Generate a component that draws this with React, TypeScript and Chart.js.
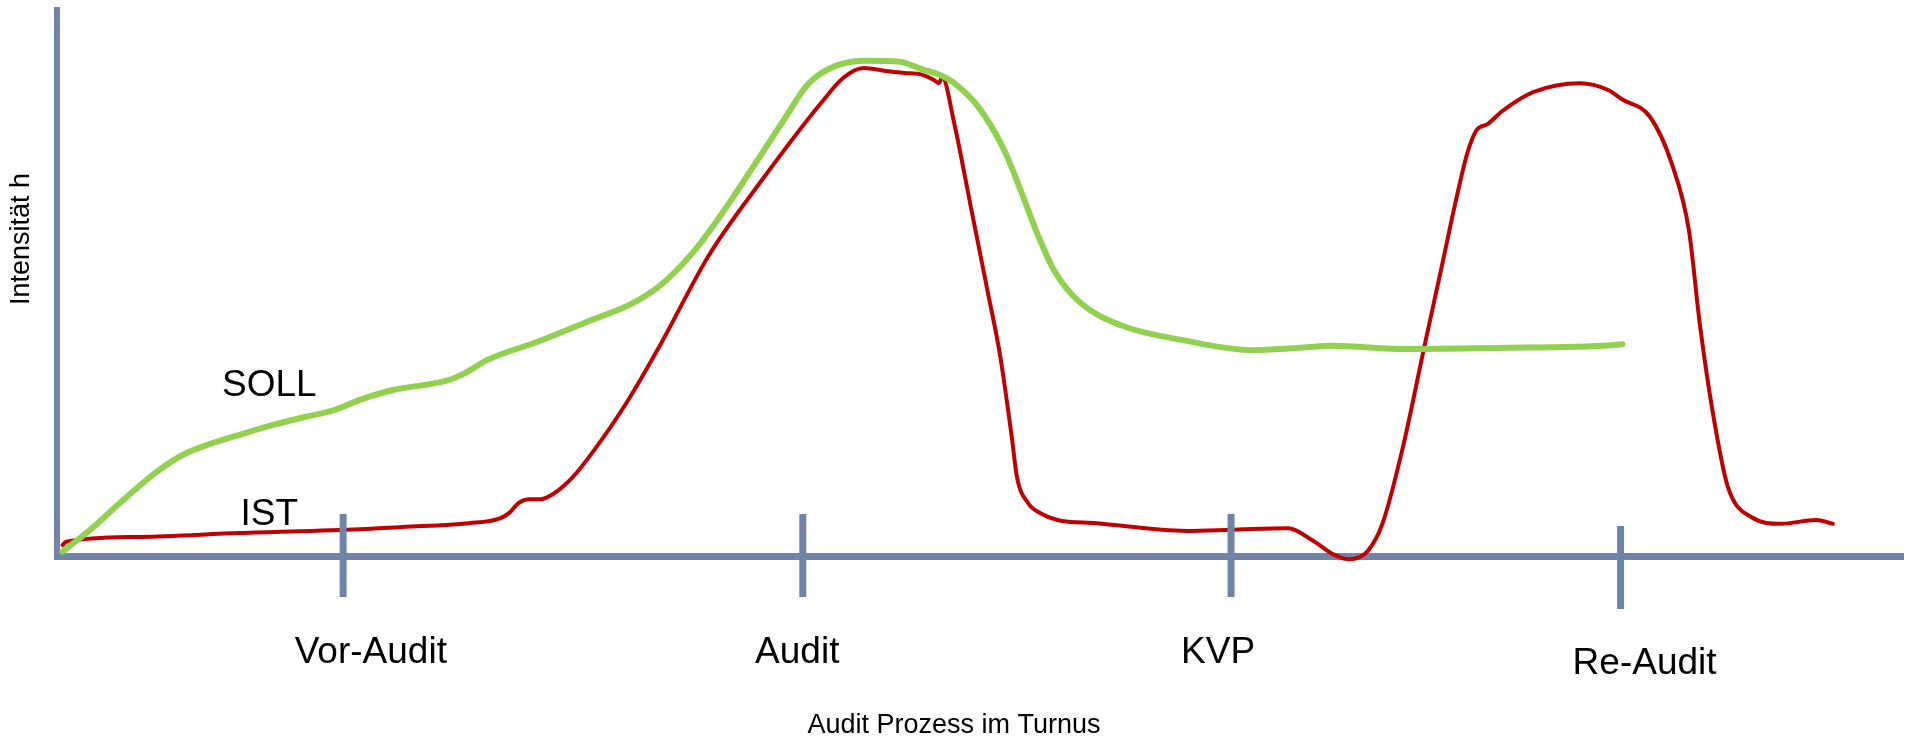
import React, { useEffect, useRef } from 'react';
import { Chart, registerables } from 'chart.js';

Chart.register(...registerables);

// ---- data (x: progress of the audit cycle 0..100, y: intensity 0..100) ----
const sollX = [0.3, 1.8, 3.6, 5.4, 6.8, 8.1, 9.9, 11.7, 13.5, 15.0, 16.4, 18.2, 21.1, 22.1, 23.3, 26.0, 28.8, 31.3, 32.9, 34.6, 36.0, 38.2, 39.4, 40.6, 41.8, 43.7, 45.7, 46.8, 47.9, 48.6, 49.9, 51.3, 52.2, 53.1, 54.0, 55.4, 57.6, 61.2, 64.8, 67.2, 69.1, 73.1, 77.9, 84.2, 84.8];
const sollY = [0.8, 4.8, 10.3, 15.4, 18.5, 20.3, 22.2, 24.0, 25.5, 26.7, 28.6, 30.4, 32.1, 33.5, 35.9, 39.2, 43.0, 46.5, 50.2, 56.2, 62.6, 73.8, 80.0, 86.1, 89.2, 90.7, 90.5, 89.2, 88.0, 86.6, 82.3, 74.4, 67.0, 59.1, 52.4, 46.5, 42.3, 39.4, 37.7, 38.1, 38.5, 37.9, 38.1, 38.6, 38.8];

const istX = [0.3, 0.5, 4.5, 9.9, 16.4, 18.7, 22.3, 24.0, 24.5, 25.0, 25.6, 26.2, 26.9, 27.9, 29.1, 30.8, 32.7, 35.3, 38.2, 41.4, 42.6, 43.7, 45.0, 46.2, 46.8, 47.5, 47.77, 47.95, 48.6, 49.5, 50.4, 51.1, 51.74, 52.0, 52.6, 53.3, 54.2, 56.3, 61.2, 63.6, 66.7, 68.0, 69.2, 70.0, 71.0, 71.8, 72.9, 74.1, 75.0, 75.8, 76.4, 76.9, 77.5, 78.3, 80.0, 82.5, 84.0, 84.8, 86.3, 87.5, 88.4, 89.0, 89.7, 90.5, 91.8, 93.4, 95.3, 96.2];
const istY = [2.0, 2.6, 3.5, 4.2, 4.9, 5.3, 6.0, 6.9, 7.9, 9.7, 10.4, 10.4, 11.4, 14.3, 19.4, 27.8, 38.8, 55.0, 68.9, 83.0, 87.6, 89.4, 88.8, 88.4, 88.2, 87.2, 86.6, 87.7, 79.3, 64.0, 48.7, 36.5, 21.3, 14.5, 9.7, 7.8, 6.6, 6.0, 4.6, 4.8, 5.1, 2.9, 0.2, -0.6, 0.9, 5.9, 19.8, 38.8, 52.8, 65.4, 73.8, 78.0, 79.1, 81.5, 85.0, 86.6, 85.4, 83.6, 80.4, 71.6, 59.7, 42.3, 26.2, 12.8, 7.1, 5.9, 6.6, 5.9];

const seriesNames = ['SOLL', 'IST'];
const seriesNameX = [11.5, 11.5];
const seriesNameY = [31.2, 7.6];

const phaseLabels = ['Vor-Audit', 'Audit', 'KVP', 'Re-Audit'];
const phaseTickX = [15.5, 40.4, 63.6, 84.7];
const phaseLabelX = [17.0, 40.1, 62.9, 86.0];

const xTitle = 'Audit Prozess im Turnus';
const yTitle = 'Intensität h';

// ---- styles ----
const AXIS = '#7084A8';
const GREEN = '#92D050';
const RED = '#C00000';
const FONT = '"Liberation Sans", Arial, sans-serif';

const decorPlugin = {
  id: 'decor',
  afterDatasetsDraw(chart: any) {
    const { ctx, scales, chartArea } = chart;
    const xs = scales.x;
    const ys = scales.y;
    const axisY = chartArea.bottom;
    ctx.save();
    // phase tick marks crossing the x axis
    ctx.strokeStyle = AXIS;
    ctx.lineWidth = 7;
    ctx.lineCap = 'butt';
    phaseTickX.forEach((v, i) => {
      const px = xs.getPixelForValue(v);
      const up = i === 3 ? 30 : 42;
      const down = i === 3 ? 53 : 41;
      ctx.beginPath();
      ctx.moveTo(px, axisY - up);
      ctx.lineTo(px, axisY + down);
      ctx.stroke();
    });
    // phase labels
    ctx.fillStyle = '#000';
    ctx.textAlign = 'center';
    ctx.textBaseline = 'alphabetic';
    ctx.font = `37px ${FONT}`;
    phaseLabels.forEach((t, i) => {
      const px = xs.getPixelForValue(phaseLabelX[i]);
      ctx.fillText(t, px, axisY + (i === 3 ? 118 : 107));
    });
    // series names
    ctx.font = `37px ${FONT}`;
    ctx.textBaseline = 'middle';
    seriesNames.forEach((t, i) => {
      ctx.fillText(t, xs.getPixelForValue(seriesNameX[i]), ys.getPixelForValue(seriesNameY[i]));
    });
    // axis titles
    ctx.font = `27px ${FONT}`;
    ctx.textBaseline = 'alphabetic';
    ctx.fillText(xTitle, chart.width / 2 + 1, axisY + 177);
    ctx.save();
    ctx.translate(chartArea.left - 35, (chartArea.top + chartArea.bottom) / 2 - 44);
    ctx.rotate(-Math.PI / 2);
    ctx.font = `27px ${FONT}`;
    ctx.textBaseline = 'middle';
    ctx.fillText(yTitle, 0, 0);
    ctx.restore();
    ctx.restore();
  },
};

export default function App() {
  const ref = useRef<HTMLCanvasElement | null>(null);
  useEffect(() => {
    if (!ref.current) return;
    const chart = new Chart(ref.current, {
      type: 'line',
      data: {
        datasets: [
          {
            label: seriesNames[0],
            data: sollX.map((x, i) => ({ x, y: sollY[i] })),
            borderColor: GREEN,
            borderWidth: 6,
            pointRadius: 0,
            cubicInterpolationMode: 'monotone',
            borderCapStyle: 'round',
            borderJoinStyle: 'round',
            clip: false,
          } as any,
          {
            label: seriesNames[1],
            data: istX.map((x, i) => ({ x, y: istY[i] })),
            borderColor: RED,
            borderWidth: 4,
            pointRadius: 0,
            cubicInterpolationMode: 'monotone',
            borderCapStyle: 'round',
            borderJoinStyle: 'round',
            clip: false,
          } as any,
        ],
      },
      options: {
        responsive: false,
        animation: false,
        devicePixelRatio: 1,
        layout: { padding: { left: 57, right: 3, top: 10, bottom: 182 } },
        plugins: {
          legend: { display: false },
          tooltip: { enabled: false },
          title: { display: false },
        },
        scales: {
          x: {
            type: 'linear',
            min: 0,
            max: 100,
            grid: { display: false, drawTicks: false },
            ticks: { display: false },
            border: { display: true, color: AXIS, width: 7 },
          },
          y: {
            type: 'linear',
            min: 0,
            max: 100,
            grid: { display: false, drawTicks: false },
            ticks: { display: false },
            border: { display: true, color: AXIS, width: 6 },
          },
        },
      },
      plugins: [decorPlugin],
    });
    return () => chart.destroy();
  }, []);
  return (
    <div style={{ position: 'absolute', left: 0, top: 0, width: 1906, height: 738, background: '#fff' }}>
      <canvas ref={ref} width={1906} height={738} />
    </div>
  );
}
